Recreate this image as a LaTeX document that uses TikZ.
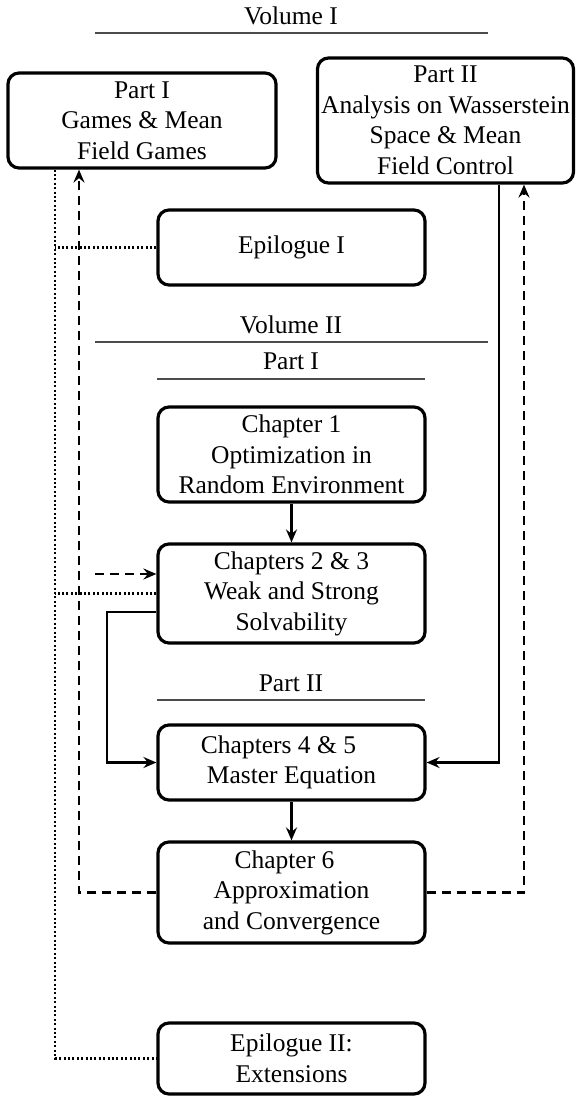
\documentclass[tikz,border=0pt]{standalone}
\usepackage{fontspec}
\setmainfont{Liberation Serif}
\usetikzlibrary{arrows.meta}
\tikzset{
  box/.style={draw=black, line width=3.2pt, rounded corners=11pt, inner sep=0pt,
    align=center, font=\fontsize{25.5}{30.5}\selectfont, text=black},
  lbl/.style={inner sep=0pt, anchor=base, font=\fontsize{25.5}{30.5}\selectfont, text=black},
  rule/.style={draw=black!70, line width=1.4pt},
  conn/.style={draw=black, line width=2.2pt},
  dashline/.style={draw=black, line width=2.4pt, dash pattern=on 9pt off 6pt},
  dotline/.style={draw=black, line width=2.2pt, dash pattern=on 2pt off 2.4pt},
  tip/.style={-{Stealth[length=13pt,width=11pt,inset=4.5pt]}}
}
\begin{document}
\begin{tikzpicture}[x=1pt,y=-1pt]
\useasboundingbox (0,0) rectangle (576,1097);

% headings
\node[lbl] (vol1) at (291,25) {Volume I};
\coordinate (vol1l) at (95,33); \coordinate (vol1r) at (488,33);
\draw[rule] (vol1l) -- (vol1r);

\node[lbl] (vol2) at (291,333) {Volume II};
\coordinate (vol2l) at (95,342); \coordinate (vol2r) at (488,342);
\draw[rule] (vol2l) -- (vol2r);

\node[lbl] (pt1) at (291,369) {Part I};
\coordinate (pt1l) at (157,379); \coordinate (pt1r) at (425,379);
\draw[rule] (pt1l) -- (pt1r);

\node[lbl] (pt2) at (291,691) {Part II};
\coordinate (pt2l) at (157,700); \coordinate (pt2r) at (425,700);
\draw[rule] (pt2l) -- (pt2r);

% boxes
\node[box, minimum width=268pt, minimum height=95pt] (p1) at (142,120.5)
  {Part I\\Games \& Mean\\Field Games};
\node[box, minimum width=256pt, minimum height=125pt] (p2) at (445.5,120.5)
  {Part II\\Analysis on Wasserstein\\Space \& Mean\\Field Control};
\node[box, minimum width=267pt, minimum height=75pt] (ep1) at (291.5,247.5)
  {Epilogue I};
\node[box, minimum width=267pt, minimum height=95pt] (c1) at (291.5,454.5)
  {Chapter 1\\Optimization in\\Random Environment};
\node[box, minimum width=267pt, minimum height=99pt] (c23) at (291.5,593.5)
  {Chapters 2 \& 3\\Weak and Strong\\Solvability};
\node[box, minimum width=267pt, minimum height=75pt] (c45) at (291.5,762.5)
  {Chapters 4 \& 5\hspace*{26pt}\\Master Equation};
\node[box, minimum width=267pt, minimum height=101pt] (c6) at (291.5,892.5)
  {Chapter 6\hspace*{14pt}\\Approximation\\and Convergence};
\node[box, minimum width=267pt, minimum height=71pt] (ep2) at (291.5,1058.5)
  {Epilogue II:\\Extensions};

% guide coordinates
\coordinate (dotx) at (55,0);
\coordinate (dashx) at (79,0);
\coordinate (sollx) at (107,0);
\coordinate (solrx) at (499,0);
\coordinate (dashrx) at (524,0);

% dotted links
\draw[dotline] (p1.south -| dotx) -- (dotx |- ep2.west) -- (ep2.west);
\draw[dotline] (ep1.west) -- (ep1.west -| dotx);
\draw[dotline] (c23.west) -- (c23.west -| dotx);

% dashed links
\draw[dashline, tip] (c6.west) -| (p1.south -| dashx);
\draw[dashline, tip] (c6.east) -| (p2.south -| dashrx);
\coordinate (d23) at ([yshift=19.5pt]c23.west);
\draw[dashline, tip] ([xshift=16pt]dashx |- d23) -- (d23);

% solid links
\draw[conn, tip] (c1.south) -- (c23.north);
\draw[conn, tip] (c45.south) -- (c6.north);
\draw[conn, tip] (p2.south -| solrx) |- (c45.east);
\coordinate (s23) at ([yshift=-18.5pt]c23.west);
\draw[conn, tip] (s23) -| (sollx |- c45.west) -- (c45.west);
\end{tikzpicture}
\end{document}
